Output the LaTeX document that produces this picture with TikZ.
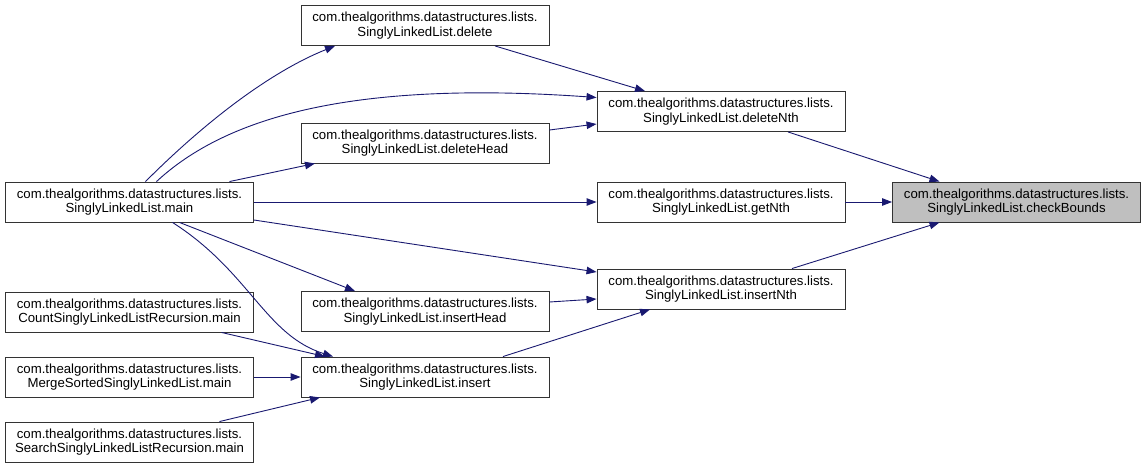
\documentclass[tikz,border=0pt]{standalone}
\usepackage{fontspec}
\setmainfont{Liberation Sans}
\usetikzlibrary{arrows.meta,calc}
\definecolor{navy}{HTML}{191970}
\definecolor{cbgray}{HTML}{BFBFBF}
\newcommand{\boxfont}{\fontsize{13.2}{14.3}\selectfont}
\tikzset{
  box/.style={draw=black!80, line width=0.9pt, fill=white, minimum width=248pt, minimum height=40pt, inner sep=0pt, align=center, font=\boxfont},
  edge/.style={draw=navy, line width=0.9pt, -{Triangle[length=10pt,width=7.5pt]}}
}
\begin{document}
\begin{tikzpicture}[x=1pt,y=-1pt]
\useasboundingbox (0,0) rectangle (1147,468);
\node[box, fill=cbgray] (cb) at (1016.5,202) {com.thealgorithms.datastructures.lists.\\SinglyLinkedList.checkBounds};
\node[box] (dn) at (721,111.5) {com.thealgorithms.datastructures.lists.\\SinglyLinkedList.deleteNth};
\node[box] (gn) at (721,202) {com.thealgorithms.datastructures.lists.\\SinglyLinkedList.getNth};
\node[box] (in) at (721,289) {com.thealgorithms.datastructures.lists.\\SinglyLinkedList.insertNth};
\node[box] (de) at (425,25.5) {com.thealgorithms.datastructures.lists.\\SinglyLinkedList.delete};
\node[box] (dh) at (425,143) {com.thealgorithms.datastructures.lists.\\SinglyLinkedList.deleteHead};
\node[box] (mn) at (129.5,202) {com.thealgorithms.datastructures.lists.\\SinglyLinkedList.main};
\node[box] (ih) at (425,311.5) {com.thealgorithms.datastructures.lists.\\SinglyLinkedList.insertHead};
\node[box] (is) at (425,377) {com.thealgorithms.datastructures.lists.\\SinglyLinkedList.insert};
\node[box] (cs) at (129.5,312) {com.thealgorithms.datastructures.lists.\\CountSinglyLinkedListRecursion.main};
\node[box] (ms) at (129.5,377) {com.thealgorithms.datastructures.lists.\\MergeSortedSinglyLinkedList.main};
\node[box] (ss) at (129.5,442) {com.thealgorithms.datastructures.lists.\\SearchSinglyLinkedListRecursion.main};

\draw[edge] ($(dn.south)+(67,0)$) -- ($(cb.north)+(-77,0)$);
\draw[edge] (gn.east) -- (cb.west);
\draw[edge] ($(in.north)+(71,0)$) -- ($(cb.south)+(-77,0)$);
\draw[edge] ($(de.south)+(70,0)$) -- ($(dn.north)+(-76,0)$);
\draw[edge] ($(mn.north)+(27,0)$) .. controls (225,118) and (350,80) .. ($(dn.west)+(0,-14)$);
\draw[edge] ($(dh.east)+(0,-13)$) -- ($(dn.west)+(0,12.5)$);
\draw[edge] ($(mn.north)+(16,0)$) .. controls (205,122) and (270,72) .. ($(de.south)+(-90,0)$);
\draw[edge] ($(mn.north)+(100,0)$) -- ($(dh.south)+(-110,0)$);
\draw[edge] (mn.east) -- (gn.west);
\draw[edge] ($(mn.east)+(0,18)$) -- ($(in.west)+(0,-17)$);
\draw[edge] ($(mn.south)+(50,0)$) -- ($(ih.north)+(-70,0)$);
\draw[edge] ($(mn.south)+(43,0)$) .. controls (250,272) and (265,335) .. ($(is.north)+(-92,0)$);
\draw[edge] ($(ih.east)+(0,-9.5)$) -- ($(in.west)+(0,10)$);
\draw[edge] ($(is.north)+(78,0)$) -- ($(in.south)+(-71,0)$);
\draw[edge] ($(cs.south)+(92,0)$) -- ($(is.north)+(-100,0)$);
\draw[edge] (ms.east) -- (is.west);
\draw[edge] ($(ss.north)+(90,0)$) -- ($(is.south)+(-105,0)$);
\end{tikzpicture}
\end{document}
